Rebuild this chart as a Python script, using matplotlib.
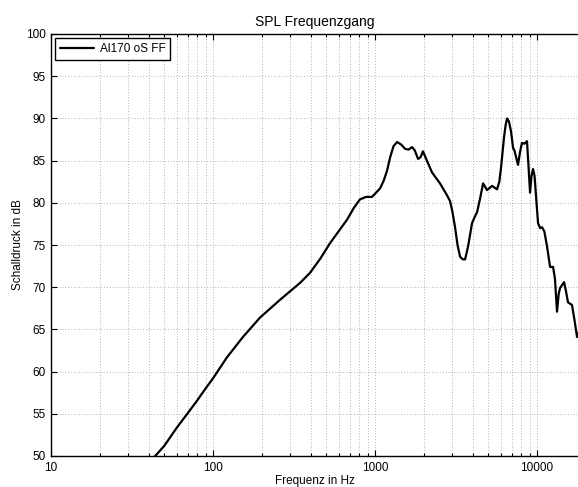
import numpy as np
import matplotlib
matplotlib.use("Agg")
import matplotlib.pyplot as plt
from matplotlib.ticker import FixedLocator, LogLocator, NullFormatter

plt.rcParams['font.family'] = ['Liberation Sans', 'DejaVu Sans']

# Measured free-field SPL response
freq_hz = [40, 44, 50, 60, 70, 80, 90, 100, 122, 153, 195, 259, 344, 397,
           460, 527, 600, 672, 740, 807, 880, 958, 1074, 1130, 1186, 1240,
           1300, 1368, 1450, 1532, 1610, 1692, 1760, 1843, 1910, 1977, 2100,
           2248, 2518, 2780, 2904, 3000, 3119, 3230, 3350, 3480, 3597, 3750,
           3971, 4120, 4266, 4450, 4645, 4913, 5277, 5665, 5850, 5998, 6257,
           6400, 6536, 6718, 6918, 7112, 7250, 7634, 7850, 8072, 8350, 8670,
           8850, 9056, 9250, 9447, 9650, 10143, 10450, 10738, 11100, 11534,
           12036, 12560, 12900, 13285, 13600, 13870, 14680, 15100, 15530,
           16430, 17000, 17660, 17900]
spl_db = [49.3, 50.0, 51.2, 53.4, 55.1, 56.6, 58.0, 59.2, 61.7, 64.1, 66.4,
          68.5, 70.5, 71.7, 73.4, 75.2, 76.7, 78.0, 79.4, 80.4, 80.7, 80.7,
          81.7, 82.6, 83.8, 85.4, 86.7, 87.2, 86.9, 86.4, 86.3, 86.6, 86.2,
          85.2, 85.4, 86.1, 84.9, 83.6, 82.3, 80.9, 80.2, 79.0, 77.1, 75.0,
          73.6, 73.3, 73.3, 74.8, 77.6, 78.3, 78.9, 80.5, 82.3, 81.5, 82.0,
          81.6, 82.5, 84.2, 87.8, 89.2, 90.0, 89.6, 88.4, 86.5, 86.2, 84.5,
          86.0, 87.1, 87.0, 87.3, 84.5, 81.2, 83.2, 84.0, 83.2, 77.6, 77.0,
          77.1, 76.6, 74.8, 72.4, 72.4, 71.0, 67.1, 69.2, 69.9, 70.6, 69.5,
          68.2, 67.9, 66.2, 64.1, 64.6]

x_limits = (10, 17900)
y_limits = (50, 100)
y_ticks = [50, 55, 60, 65, 70, 75, 80, 85, 90, 95, 100]
x_ticks = [10, 100, 1000, 10000]
x_tick_labels = ['10', '100', '1000', '10000']

fig = plt.figure(figsize=(5.78, 4.87), dpi=100)
ax = fig.add_axes([51 / 578, 31 / 487, 1 - 51 / 578, 422 / 487])

ax.semilogx(freq_hz, spl_db, color='black', lw=1.6, label='Al170 oS FF',
            solid_joinstyle='round', solid_capstyle='round', zorder=3)

ax.set_xlim(*x_limits)
ax.set_ylim(*y_limits)
ax.xaxis.set_major_locator(FixedLocator(x_ticks))
ax.set_xticklabels(x_tick_labels)
ax.xaxis.set_minor_locator(LogLocator(base=10, subs=np.arange(2, 10)))
ax.xaxis.set_minor_formatter(NullFormatter())
ax.set_yticks(y_ticks)

grid_style = dict(color='0.45', linestyle=(0, (1, 3)), linewidth=0.5)
ax.grid(True, which='major', axis='both', **grid_style)
ax.grid(True, which='minor', axis='x', **grid_style)

ax.tick_params(which='both', direction='in', top=True, right=False,
               labelsize=8.5, colors='black', width=0.8)
ax.tick_params(which='major', length=4, pad=4)
ax.tick_params(which='minor', length=2.5)

for side in ('left', 'bottom', 'top'):
    ax.spines[side].set_linewidth(1.0)
ax.spines['right'].set_visible(False)

ax.set_title('SPL Frequenzgang', fontsize=10, pad=6)
ax.set_xlabel('Frequenz in Hz', fontsize=8.5, labelpad=1)
ax.set_ylabel('Schalldruck in dB', fontsize=8.5, labelpad=1)

leg = ax.legend(loc='upper left', fontsize=8.5, frameon=True, fancybox=False,
                handlelength=2.9, borderpad=0.4, borderaxespad=0.35,
                handletextpad=0.5)
leg.get_frame().set_edgecolor('black')
leg.get_frame().set_linewidth(1.0)
leg.get_frame().set_alpha(1)

fig.savefig('out.png', dpi=100, facecolor='white')
